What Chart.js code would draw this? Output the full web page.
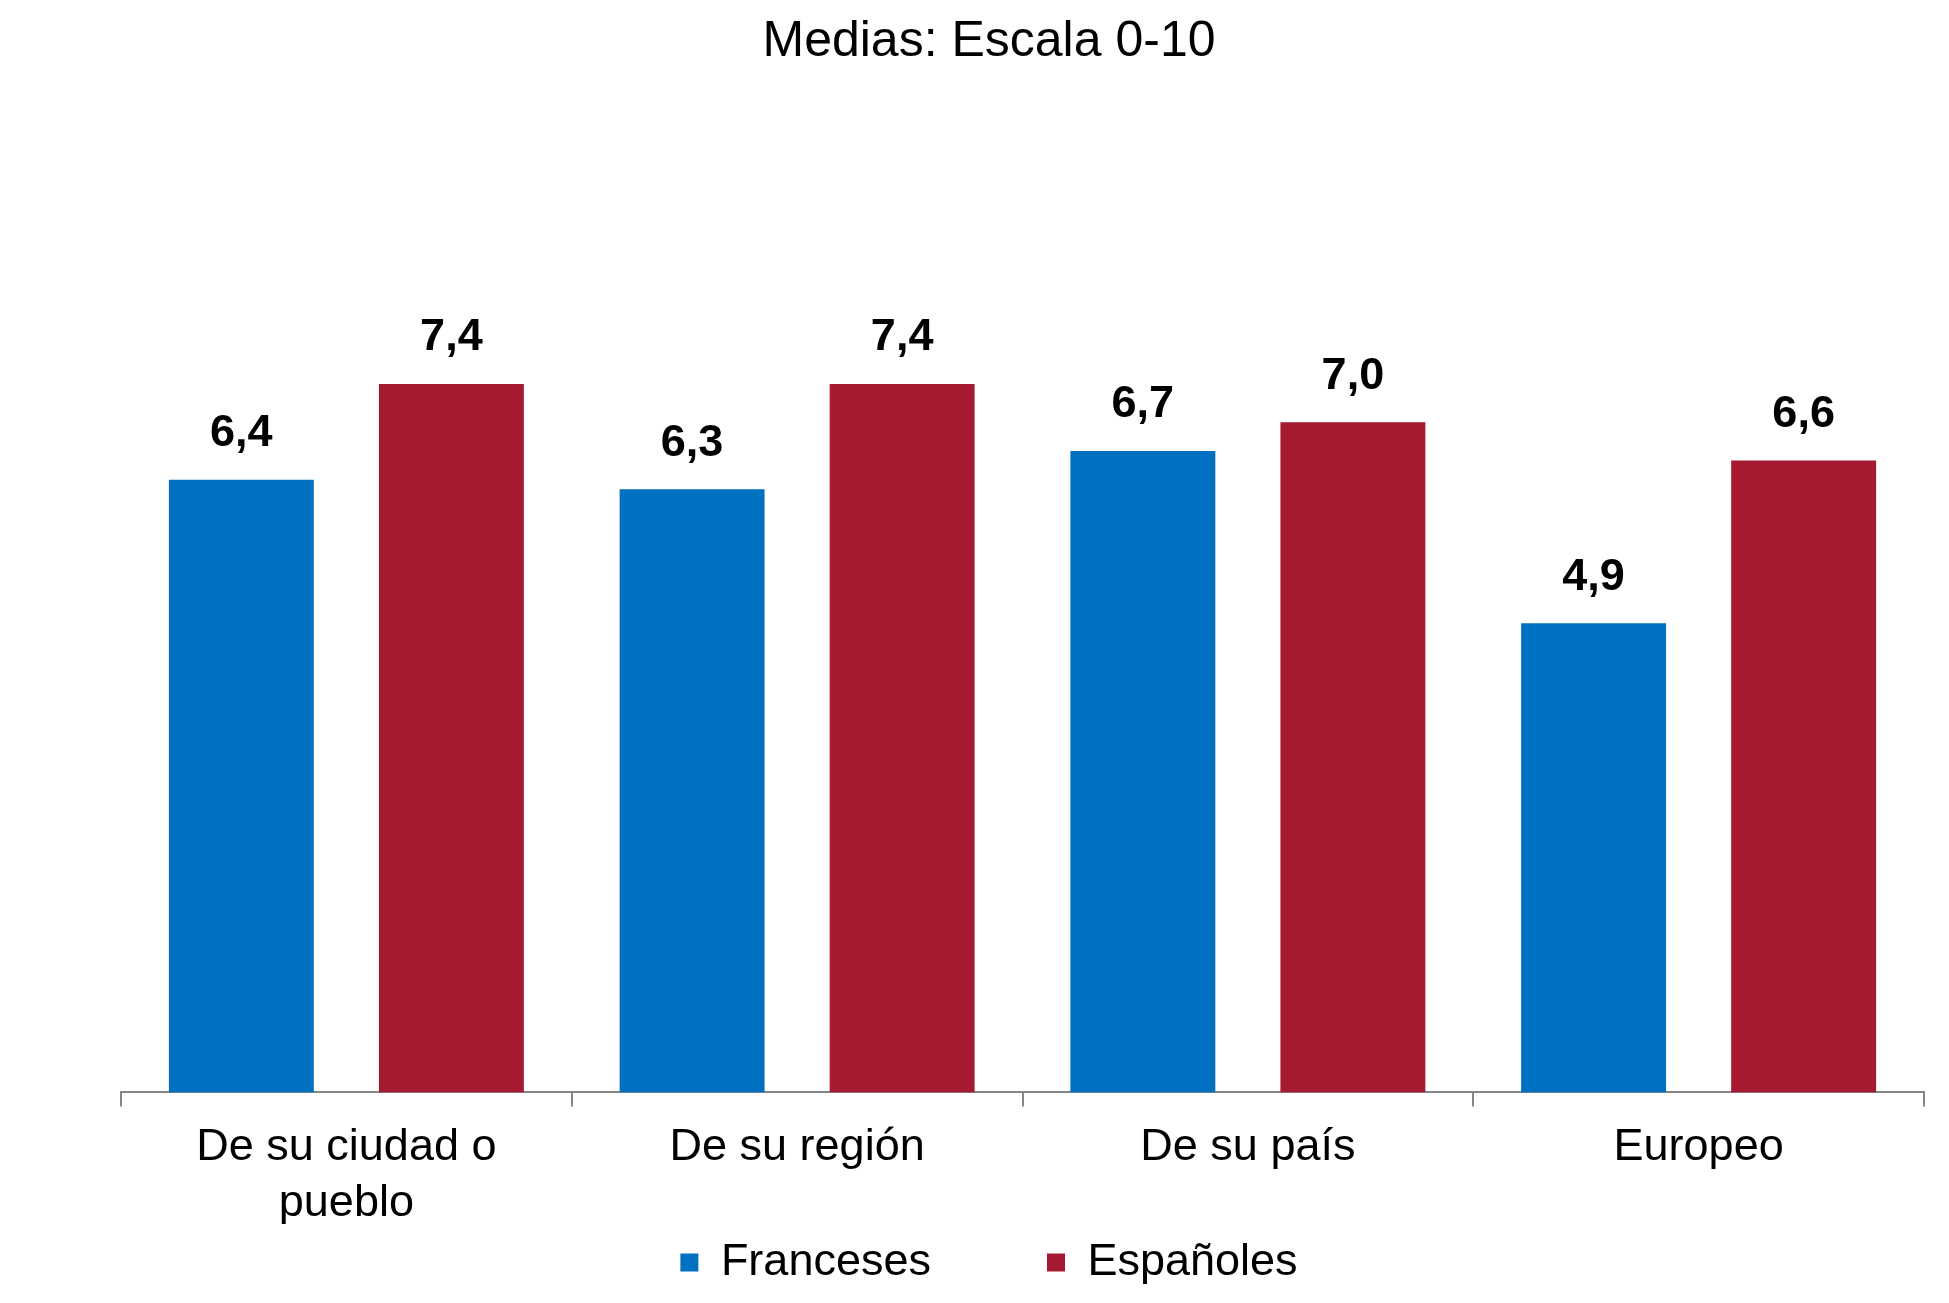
<!DOCTYPE html>
<html>
<head>
<meta charset="utf-8">
<script src="https://cdn.jsdelivr.net/npm/chart.js@4.4.1/dist/chart.umd.min.js"></script>
<style>
  body { margin: 0; background: #fff; }
  #wrap { width: 1949px; height: 1303px; }
</style>
</head>
<body>
<div id="wrap"><canvas id="mediasChart" width="1949" height="1303"></canvas></div>
<script>
// categories and values
const categories = [['De su ciudad o', 'pueblo'], 'De su región', 'De su país', 'Europeo'];
const franceses = [6.4, 6.3, 6.7, 4.9];
const espanoles = [7.4, 7.4, 7.0, 6.6];

const FONT = "'Liberation Sans', Arial, sans-serif";

// draws the bold value above each bar
const valueLabels = {
    id: 'valueLabels',
    afterDatasetsDraw(chart) {
        const ctx = chart.ctx;
        ctx.save();
        ctx.font = 'bold 45px ' + FONT;
        ctx.fillStyle = '#000';
        ctx.textAlign = 'center';
        ctx.textBaseline = 'middle';
        chart.data.datasets.forEach((ds, i) => {
            chart.getDatasetMeta(i).data.forEach((bar, j) => {
                ctx.fillText(ds.data[j].toFixed(1).replace('.', ','), bar.x, bar.y - 46);
            });
        });
        ctx.restore();
    }
};

// empty side axes, only used to reserve room
const spacer = (w) => ({
    display: true,
    grid: { display: false },
    border: { display: false },
    ticks: { display: false },
    afterFit: (s) => { s.width = w; }
});

const ctx = document.getElementById('mediasChart').getContext('2d');
const mediasChart = new Chart(ctx, {
    type: 'bar',
    data: {
        labels: categories,
        datasets: [
            { label: 'Franceses', backgroundColor: '#0070C0', data: franceses },
            { label: 'Españoles', backgroundColor: '#A51A30', data: espanoles }
        ]
    },
    options: {
        responsive: false,
        animation: false,
        layout: { padding: { left: 29, right: 0, top: 0, bottom: 8 } },
        datasets: { bar: { categoryPercentage: 0.932, barPercentage: 0.69 } },
        plugins: {
            title: {
                display: true,
                text: 'Medias: Escala 0-10',
                color: '#000',
                font: { family: FONT, size: 50, weight: 'normal' },
                padding: { top: 12, bottom: 63 }
            },
            legend: {
                position: 'bottom',
                labels: {
                    color: '#000',
                    font: { family: FONT, size: 45 },
                    boxWidth: 18,
                    boxHeight: 18,
                    padding: 16,
                    generateLabels(chart) {
                        const items = Chart.defaults.plugins.legend.labels.generateLabels(chart);
                        items[0].text += '        '; // wider gap between the two entries
                        return items;
                    }
                }
            },
            tooltip: { enabled: false }
        },
        scales: {
            x: {
                grid: { display: true, drawOnChartArea: false, color: '#868686', lineWidth: 2, tickLength: 14 },
                border: { display: true, color: '#868686', width: 2 },
                ticks: { color: '#000', font: { family: FONT, size: 45, lineHeight: 1.24 }, padding: 13, maxRotation: 0 },
                afterFit: (s) => { s.height -= 20; }
            },
            y: Object.assign(spacer(92), { min: 0, max: 10 }),
            yRight: Object.assign(spacer(25), { position: 'right' })
        }
    },
    plugins: [valueLabels]
});
</script>
</body>
</html>
